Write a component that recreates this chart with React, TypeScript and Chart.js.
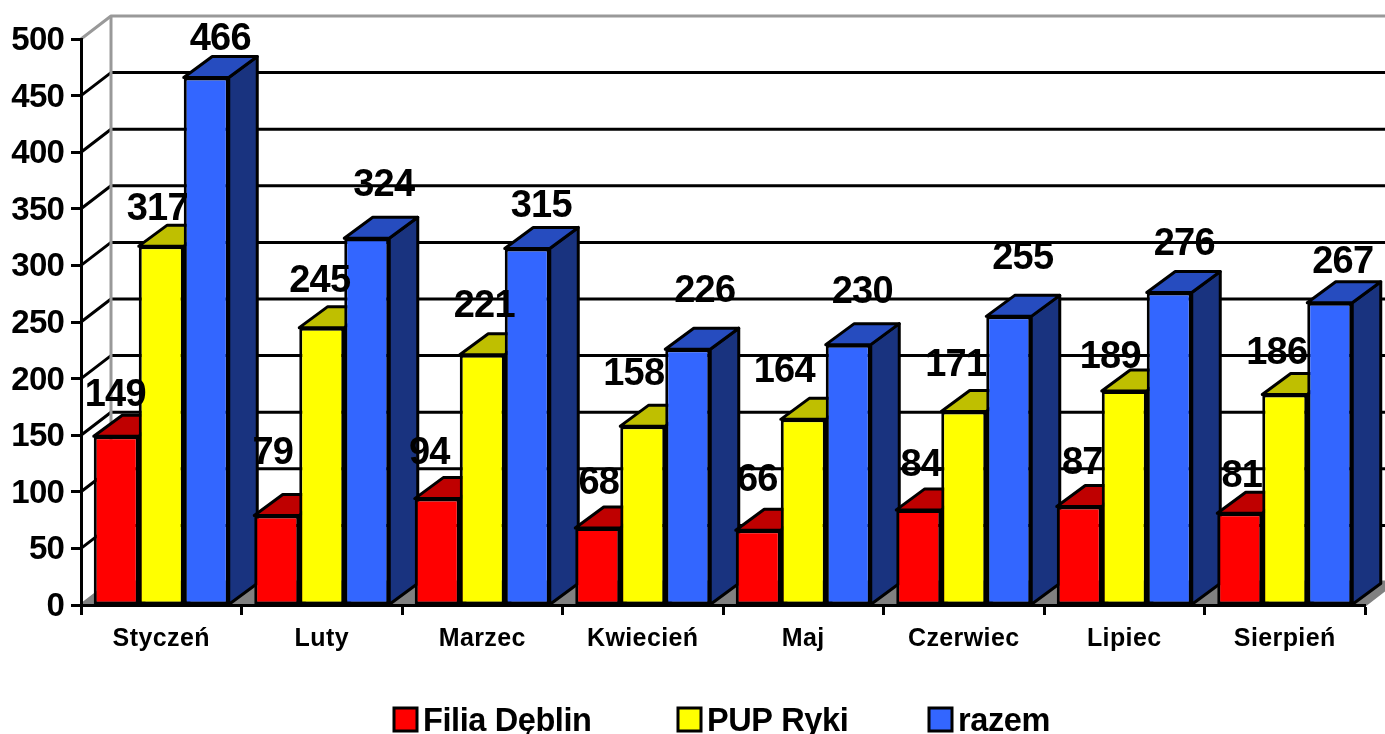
import React, { useEffect, useRef } from "react";
import { Chart, registerables } from "chart.js";

Chart.register(...registerables);

const months = ["Styczeń", "Luty", "Marzec", "Kwiecień", "Maj", "Czerwiec", "Lipiec", "Sierpień"];
const filiaDeblin = [149, 79, 94, 68, 66, 84, 87, 81];
const pupRyki = [317, 245, 221, 158, 164, 171, 189, 186];
const razem = [466, 324, 315, 226, 230, 255, 276, 267];
const yTicks = { min: 0, max: 500, step: 50 };

// Hand-placed data-label nudges, relative to the centre of each bar's top edge
const labelNudgeX = [
  [-1, -4, -8, 1, -1, 2, 3, 2],
  [-4, -2, 2, -9, -19, -8, -14, -8],
  [14, 17, 14, 17, 14, 14, 15, 13],
];
const labelNudgeY = [
  [-41, -62, -45, -45, -50, -44, -43, -37],
  [-37, -46, -48, -52, -48, -46, -34, -41],
  [-37.5, -53, -42, -58, -52, -58, -48, -40],
];

const FONT = '"Liberation Sans", Arial, sans-serif';
const LINE = 3;
const WALL_DX = 30;
const WALL_DY = 23;
const BAR_DX = 28.5;
const BAR_DY = 21;
const legendLefts = [394, 678, 929];
const legendTop = 708;
const legendBox = 23;
const yLabelShift = 2;

const shades = [
  { front: "#FF0000", top: "#BF0000", side: "#7F0000" },
  { front: "#FFFF00", top: "#BFBF00", side: "#7F7F00" },
  { front: "#3366FF", top: "#264CBF", side: "#19337F" },
];

function poly(ctx: CanvasRenderingContext2D, pts: number[][], fill: string | null, stroke: string | null) {
  ctx.beginPath();
  pts.forEach((p, i) => (i ? ctx.lineTo(p[0], p[1]) : ctx.moveTo(p[0], p[1])));
  if (fill) {
    ctx.closePath();
    ctx.fillStyle = fill;
    ctx.fill();
  }
  if (stroke) {
    ctx.strokeStyle = stroke;
    ctx.lineWidth = LINE;
    ctx.stroke();
  }
}

const chart3d = {
  id: "chart3d",
  beforeDraw(chart: any) {
    const { ctx, chartArea: a, scales } = chart;
    const y = scales.y;
    const items = y.getLabelItems(a);
    if (!items.shifted) {
      items.forEach((it: any) => { it.textOffset += yLabelShift; });
      items.shifted = true;
    }
    ctx.save();
    ctx.lineJoin = "round";
    const backRight = a.right + WALL_DX;
    const backBottom = y.getPixelForValue(0) - WALL_DY;
    poly(ctx, [[a.left, a.bottom], [a.left + WALL_DX, backBottom], [backRight, backBottom], [a.right, a.bottom]], "#808080", "#808080");
    y.ticks.forEach((t: any) => {
      const p = y.getPixelForValue(t.value);
      if (t.value === 0) return;
      const color = t.value === yTicks.max ? "#999999" : "#000000";
      poly(ctx, [[a.left, p], [a.left + WALL_DX, p - WALL_DY], [backRight, p - WALL_DY]], null, color);
    });
    poly(ctx, [[a.left + WALL_DX, a.top - WALL_DY], [a.left + WALL_DX, backBottom]], null, "#999999");
    ctx.restore();
    (ctx as any).letterSpacing = "-0.8px";
  },
  beforeDatasetsDraw(chart: any) {
    const { ctx } = chart;
    (ctx as any).letterSpacing = "0px";
    ctx.save();
    ctx.lineJoin = "round";
    const count = chart.data.labels.length;
    for (let i = 0; i < count; i++) {
      chart.data.datasets.forEach((_: any, d: number) => {
        const bar = chart.getDatasetMeta(d).data[i];
        const { x, y, width, base } = bar.getProps(["x", "y", "width", "base"], true);
        const l = x - width / 2;
        const r = x + width / 2;
        poly(ctx, [[r, y], [r + BAR_DX, y - BAR_DY], [r + BAR_DX, base - BAR_DY], [r, base]], shades[d].side, "#000000");
        ctx.closePath();
        poly(ctx, [[l, y], [l + BAR_DX, y - BAR_DY], [r + BAR_DX, y - BAR_DY], [r, y]], shades[d].top, "#000000");
      });
    }
    ctx.restore();
  },
  afterDatasetsDraw(chart: any) {
    const { ctx } = chart;
    ctx.save();
    (ctx as any).letterSpacing = "-0.8px";
    ctx.font = `bold 38px ${FONT}`;
    ctx.fillStyle = "#000000";
    ctx.textAlign = "center";
    ctx.textBaseline = "middle";
    chart.data.datasets.forEach((ds: any, d: number) => {
      chart.getDatasetMeta(d).data.forEach((bar: any, i: number) => {
        ctx.fillText(String(ds.data[i]), bar.x + labelNudgeX[d][i], bar.y + labelNudgeY[d][i]);
      });
    });
    ctx.restore();
    (ctx as any).letterSpacing = "0.4px";
  },
  afterDraw(chart: any) {
    const { ctx } = chart;
    (ctx as any).letterSpacing = "0px";
    ctx.save();
    (ctx as any).letterSpacing = "-0.4px";
    ctx.font = `bold 32.5px ${FONT}`;
    ctx.textBaseline = "middle";
    ctx.textAlign = "left";
    chart.data.datasets.forEach((ds: any, d: number) => {
      const left = legendLefts[d];
      ctx.fillStyle = ds.backgroundColor;
      ctx.fillRect(left, legendTop, legendBox, legendBox);
      ctx.strokeStyle = "#000000";
      ctx.lineWidth = LINE;
      ctx.strokeRect(left, legendTop, legendBox, legendBox);
      ctx.fillStyle = "#000000";
      ctx.fillText(ds.label, left + legendBox + 6, legendTop + 14);
    });
    ctx.restore();
    (ctx as any).letterSpacing = "0px";
  },
};

export default function App() {
  const ref = useRef<HTMLCanvasElement | null>(null);
  useEffect(() => {
    const mkDs = (label: string, data: number[], d: number) => ({
      label,
      data,
      backgroundColor: shades[d].front,
      borderColor: "#000000",
      borderWidth: LINE,
      borderSkipped: false,
      categoryPercentage: 135 / 160.5,
      barPercentage: 1,
    });
    const chart = new Chart(ref.current as HTMLCanvasElement, {
      type: "bar",
      data: {
        labels: months,
        datasets: [mkDs("Filia Dęblin", filiaDeblin, 0), mkDs("PUP Ryki", pupRyki, 1), mkDs("razem", razem, 2)],
      },
      plugins: [chart3d],
      options: {
        responsive: false,
        animation: false,
        layout: { padding: { left: 0, right: 20, top: 39, bottom: 0 } },
        plugins: { legend: { display: false }, tooltip: { enabled: false }, title: { display: false } },
        scales: {
          x: {
            afterFit: (s: any) => { s.height = 129; },
            grid: { display: true, drawOnChartArea: false, drawTicks: true, tickLength: 10, tickColor: "#000000", tickWidth: LINE, offset: true },
            border: { display: true, color: "#000000", width: LINE },
            ticks: { z: 1, color: "#000000", font: { family: FONT, size: 25, weight: "bold" }, padding: 9, maxRotation: 0, autoSkip: false },
          },
          y: {
            min: yTicks.min,
            max: yTicks.max,
            afterFit: (s: any) => { s.width = 81; },
            grid: { display: true, drawOnChartArea: false, drawTicks: true, tickLength: 10, tickColor: "#000000", tickWidth: LINE },
            border: { display: true, color: "#000000", width: LINE },
            ticks: { stepSize: yTicks.step, color: "#000000", font: { family: FONT, size: 33, weight: "bold" }, padding: 7 },
          },
        },
      },
    } as any);
    return () => chart.destroy();
  }, []);
  return (
    <canvas
      ref={ref}
      width={1385}
      height={734}
      style={{ position: "fixed", left: 0, top: 0, display: "block", width: 1385, height: 734 }}
    />
  );
}
